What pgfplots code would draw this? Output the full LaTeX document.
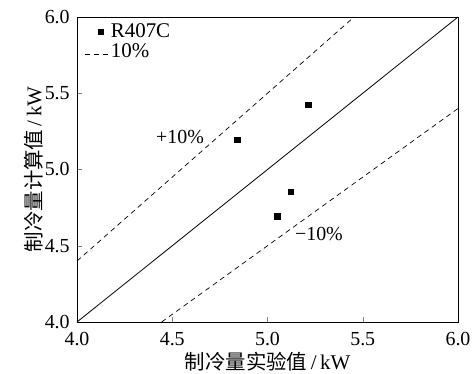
\documentclass[border=0pt]{standalone}
\usepackage{pgfplots}
\pgfplotsset{compat=1.18}
\usepackage{fontspec}
\setmainfont{Liberation Serif}
\newfontfamily\tnr{Liberation Serif}
\newfontfamily\cjk{Noto Sans CJK SC}
\pgfplotsset{
  legmark/.style={legend image code/.code={\draw[##1] plot coordinates {(16bp,0bp)};}},
  legline/.style={legend image code/.code={\draw[##1] (0bp,-3bp) -- (25bp,-3bp);}},
}
\begin{document}
\tnr\fontsize{20}{23}\selectfont
\begin{tikzpicture}[font=\tnr]
\begin{axis}[
  scale only axis,
  width=381bp, height=305bp,
  xmin=4, xmax=6, ymin=4, ymax=6,
  xtick={4,4.5,5,5.5,6}, ytick={4,4.5,5,5.5,6},
  xticklabels={4.0,4.5,5.0,5.5,6.0},
  yticklabels={4.0,4.5,5.0,5.5,6.0},
  tick label style={font=\tnr\fontsize{20}{23}\selectfont},
  xticklabel style={anchor=center, yshift=-17bp},
  yticklabel style={anchor=east, xshift=-0.5bp},
  tick align=inside, xtick pos=bottom, ytick pos=left,
  major tick length=5bp,
  axis line style={line width=0.8pt},
  xlabel={{\cjk\fontsize{20.5}{22}\selectfont 制冷量实验值}\,/\,kW},
  ylabel={{\cjk\fontsize{20.5}{22}\selectfont 制冷量计算值}\,/\,kW},
  label style={font=\tnr\fontsize{21}{23}\selectfont},
  xlabel style={at={(axis description cs:0.5,-0.131)}, anchor=center},
  ylabel style={at={(axis description cs:-0.114,0.5)}, anchor=center},
  legend style={at={(axis description cs:0,1)}, anchor=north west,
    xshift=7bp, yshift=-5bp, draw=none, fill=none,
    font=\tnr\fontsize{21}{22}\selectfont, row sep=1bp, inner sep=0pt,
    nodes={inner sep=1bp}},
  legend cell align=left,
  clip=true,
]
\addplot[only marks, mark=square*, mark size=2.7bp, black, legmark] coordinates {
  (4.841,5.195) (5.214,5.425) (5.122,4.854) (5.05,4.695)
};
\addlegendentry{R407C}
\addplot[black, line width=0.7pt, dash pattern=on 5bp off 4bp, legline] coordinates {(4,4.4) (5.4545,6)};
\addlegendentry{10\%}
\addplot[black, line width=0.7pt, dash pattern=on 5bp off 4bp, forget plot] coordinates {(4.4444,4) (6,5.4)};
\addplot[black, line width=0.8pt, forget plot] coordinates {(4,4) (6,6)};
\node[font=\tnr\fontsize{20}{23}\selectfont] at (axis cs:4.541,5.215) {+10\%};
\node[font=\tnr\fontsize{20}{23}\selectfont] at (axis cs:5.27,4.577) {\textminus10\%};
\end{axis}
\pgfresetboundingbox
\path ([shift={(-77bp,-52bp)}]current axis.south west) rectangle ([shift={(16bp,17bp)}]current axis.north east);
\end{tikzpicture}
\end{document}
